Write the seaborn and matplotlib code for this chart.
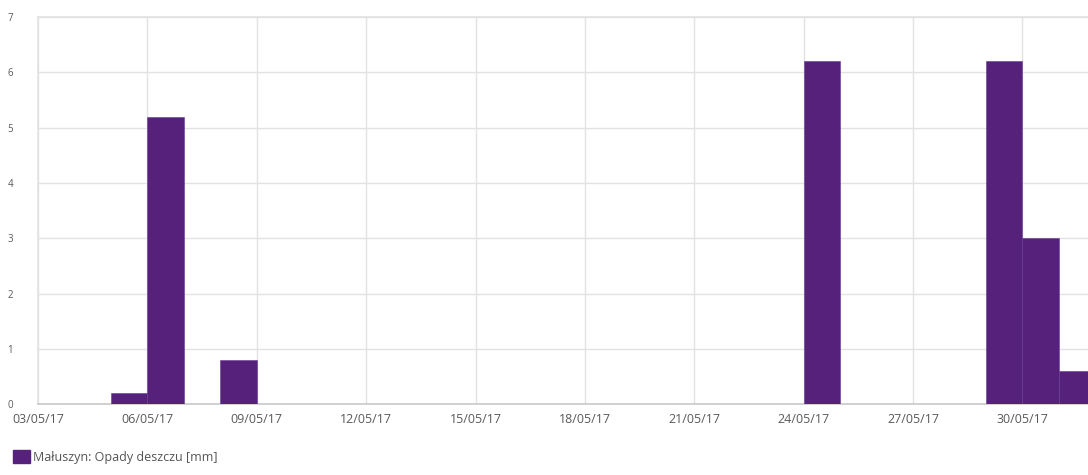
import matplotlib
matplotlib.use("Agg")
import matplotlib.pyplot as plt
import matplotlib.patches as mpatches
import matplotlib.dates as mdates
import pandas as pd
import seaborn as sns

# Dane: dni z opadem i wysokość opadu [mm]
rain_days = ["2017-05-05", "2017-05-06", "2017-05-08", "2017-05-24",
             "2017-05-29", "2017-05-30", "2017-05-31"]
rain_mm = [0.2, 5.2, 0.8, 6.2, 6.2, 3.0, 0.6]
series_label = "Małuszyn: Opady deszczu [mm]"
y_ticks = [0, 1, 2, 3, 4, 5, 6, 7]

bar_color = "#55217b"
grid_color = "#e2e2e2"

sns.set_style("white")
plt.rcParams["font.family"] = ["Open Sans", "DejaVu Sans"]

x_start = pd.Timestamp("2017-05-03")
x_end = pd.Timestamp("2017-06-01")
day_nums = mdates.date2num(pd.to_datetime(rain_days))

fig = plt.figure(figsize=(10.88, 4.75), dpi=100)
ax = fig.add_axes([0.035, 0.149, 0.965, 0.815])

sns.histplot(x=day_nums, weights=rain_mm, binwidth=1,
             binrange=(mdates.date2num(x_start), mdates.date2num(x_end)),
             color=bar_color, alpha=1, edgecolor="#6a3a90", linewidth=0.4,
             ax=ax, zorder=3)

ax.set_xlim(mdates.date2num(x_start), mdates.date2num(x_end) - 0.2)
ax.set_ylim(0, 7)
ax.set_yticks(y_ticks)
ax.xaxis.set_major_locator(mdates.DayLocator(bymonthday=range(3, 32, 3)))
ax.xaxis.set_major_formatter(mdates.DateFormatter("%d/%m/%y"))

# siatka i ramka
ax.grid(True, color=grid_color, linewidth=1, zorder=0)
ax.set_axisbelow(True)
for side in ["top", "left"]:
    ax.spines[side].set_color(grid_color)
    ax.spines[side].set_linewidth(1.2)
ax.spines["right"].set_visible(False)
ax.spines["bottom"].set_color("#c8c8c8")
ax.spines["bottom"].set_linewidth(1.2)

ax.tick_params(axis="x", length=0, pad=6, labelsize=9, labelcolor="#5a5a5a")
ax.tick_params(axis="y", length=0, pad=22, labelsize=7, labelcolor="#5a5a5a")
for lbl in ax.get_yticklabels():
    lbl.set_horizontalalignment("left")
ax.set_xlabel("")
ax.set_ylabel("")

# legenda
patch = mpatches.Patch(color=bar_color, label=series_label)
fig.legend(handles=[patch], loc="lower left", bbox_to_anchor=(0.002, 0.0),
           frameon=False, fontsize=9, handlelength=1.3, handleheight=1.3,
           handletextpad=0.3, labelcolor="#555555")

fig.savefig("out.png", dpi=100)
